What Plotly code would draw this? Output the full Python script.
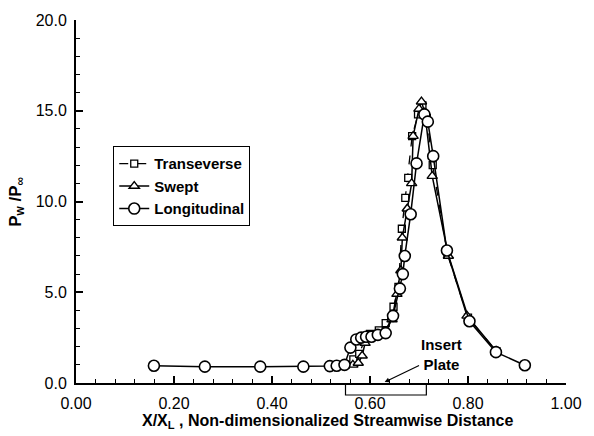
import plotly.graph_objects as go

# Longitudinal (circles)
long_x = [0.159, 0.263, 0.376, 0.464, 0.518, 0.532, 0.548, 0.560, 0.572, 0.582, 0.592,
          0.603, 0.616, 0.632, 0.647, 0.661, 0.667, 0.671, 0.683, 0.695, 0.711, 0.718,
          0.729, 0.757, 0.803, 0.857, 0.916]
long_y = [0.95, 0.9, 0.9, 0.9, 0.93, 0.95, 1.0, 1.95, 2.4, 2.5, 2.55,
          2.55, 2.65, 2.75, 3.7, 5.2, 6.0, 7.0, 9.3, 12.1, 14.8, 14.4,
          12.5, 7.3, 3.4, 1.7, 0.98]

# Swept (triangles)
swept_x = [0.520, 0.545, 0.565, 0.576, 0.584, 0.590, 0.598, 0.612, 0.628, 0.645, 0.655,
           0.663, 0.666, 0.676, 0.685, 0.688, 0.700, 0.705, 0.712, 0.727, 0.760, 0.798, 0.858]
swept_y = [0.9, 0.95, 1.0, 1.1, 1.5, 2.2, 2.6, 2.7, 2.8, 3.5, 4.9,
           6.2, 8.0, 9.6, 11.0, 13.6, 15.1, 15.5, 14.9, 11.4, 7.0, 3.7, 1.75]

# Transverse (squares)
trans_x = [0.525, 0.550, 0.566, 0.578, 0.588, 0.600, 0.618, 0.632, 0.648, 0.658, 0.665,
           0.672, 0.678, 0.686, 0.698, 0.707, 0.716, 0.728, 0.758, 0.800, 0.858]
trans_y = [0.9, 1.0, 1.3, 1.6, 2.3, 2.7, 2.9, 3.3, 4.2, 5.3, 8.5,
           10.2, 11.3, 13.6, 14.8, 15.3, 14.6, 12.0, 7.1, 3.6, 1.75]

x_ticks = [0.0, 0.2, 0.4, 0.6, 0.8, 1.0]
x_ticklabels = ["0.00", "0.20", "0.40", "0.60", "0.80", "1.00"]
y_ticks = [0, 5, 10, 15, 20]
y_ticklabels = ["0.0", "5.0", "10.0", "15.0", "20.0"]

insert_plate = [0.55, 0.715]

FONT = "Liberation Sans, Arial, sans-serif"

fig = go.Figure()
fig.add_trace(go.Scatter(
    x=trans_x, y=trans_y, mode="lines+markers", name="Transeverse",
    line=dict(color="black", width=1.3, dash="dash"),
    marker=dict(symbol="square", size=7, color="white", line=dict(color="black", width=1.3))))
fig.add_trace(go.Scatter(
    x=swept_x, y=swept_y, mode="lines+markers", name="Swept",
    line=dict(color="black", width=1.5),
    marker=dict(symbol="triangle-up", size=9, color="white", line=dict(color="black", width=1.4))))
fig.add_trace(go.Scatter(
    x=long_x, y=long_y, mode="lines+markers", name="Longitudinal",
    line=dict(color="black", width=1.5),
    marker=dict(symbol="circle", size=11, color="white", line=dict(color="black", width=1.6))))

fig.update_layout(
    width=594, height=436,
    margin=dict(l=76, r=20, t=17, b=53),
    paper_bgcolor="white", plot_bgcolor="white",
    font=dict(family=FONT, color="black", size=15),
    legend=dict(x=0.076, y=0.652, xanchor="left", yanchor="top",
                bordercolor="black", borderwidth=1, bgcolor="white",
                font=dict(family=FONT, size=15, weight="bold"),
                tracegroupgap=2, itemwidth=30),
    showlegend=True,
)
fig.update_xaxes(
    range=[0, 1], tickvals=x_ticks, ticktext=x_ticklabels,
    showgrid=False, zeroline=False, showline=True, linecolor="black", linewidth=1.5,
    ticks="inside", ticklen=7, tickwidth=1.5, tickcolor="black",
    minor=dict(dtick=0.04, ticks="inside", ticklen=4, tickwidth=1.2, tickcolor="black"),
    ticklabelstandoff=5, tickfont=dict(size=16))
fig.update_yaxes(
    range=[0, 20], tickvals=y_ticks, ticktext=y_ticklabels,
    showgrid=False, zeroline=False, showline=True, linecolor="black", linewidth=2,
    ticks="inside", ticklen=7, tickwidth=1.5, tickcolor="black",
    minor=dict(dtick=1, ticks="inside", ticklen=4, tickwidth=1.2, tickcolor="black"),
    ticklabelstandoff=4, tickfont=dict(size=16))

# Axis titles
fig.add_annotation(
    text="X/X<sub>L</sub> , Non-dimensionalized Streamwise Distance",
    xref="paper", yref="paper", x=0.514, y=-0.107, xanchor="center", yanchor="middle",
    showarrow=False, font=dict(family=FONT, size=16, weight="bold"))
fig.add_annotation(
    text="P<sub>w</sub> /P<sub>∞</sub>",
    xref="paper", yref="paper", x=-0.122, y=0.5, xanchor="center", yanchor="middle",
    textangle=-90, showarrow=False, font=dict(family=FONT, size=17, weight="bold"))

# Insert plate label with arrow
fig.add_annotation(
    text="Insert<br>Plate", x=0.63, y=0.05, xref="x", yref="y",
    ax=0.745, ay=1.55, axref="x", ayref="y",
    showarrow=True, arrowhead=2, arrowsize=0.8, arrowwidth=1.2, arrowcolor="black",
    font=dict(family=FONT, size=15, weight="bold"), align="center")

# Insert plate bracket below the axis
fig.add_shape(type="path", xref="x", yref="paper",
              path=f"M {insert_plate[0]} 0 L {insert_plate[0]} -0.033 L {insert_plate[1]} -0.033 L {insert_plate[1]} 0",
              line=dict(color="black", width=1.2))

fig.write_html("out.html")
